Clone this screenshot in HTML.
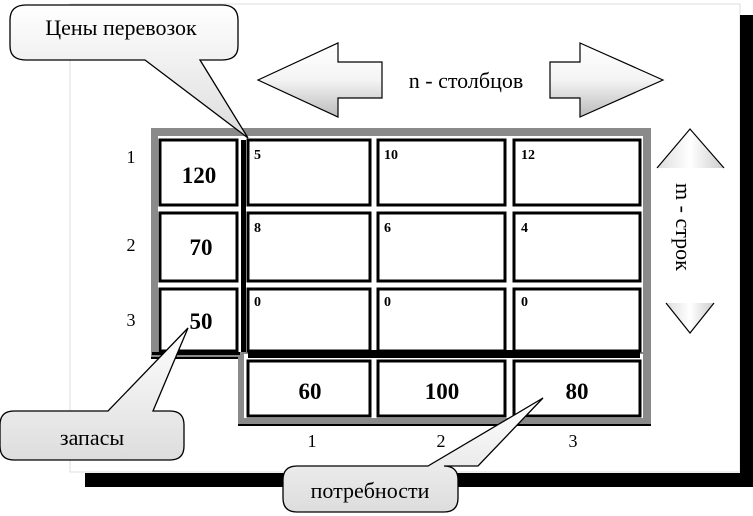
<!DOCTYPE html>
<html><head><meta charset="utf-8"><style>
html,body{margin:0;padding:0;background:#fff;width:753px;height:516px;overflow:hidden}
svg{display:block}
text{font-family:"Liberation Serif",serif}
</style></head><body>
<svg width="753" height="516" viewBox="0 0 753 516" xmlns="http://www.w3.org/2000/svg">
<defs>
<linearGradient id="ag" x1="0" y1="0" x2="0" y2="1">
<stop offset="0" stop-color="#fff"/><stop offset="0.5" stop-color="#f4f4f4"/><stop offset="1" stop-color="#bbb"/>
</linearGradient>
<linearGradient id="cg" x1="0" y1="0" x2="0" y2="1">
<stop offset="0" stop-color="#fff"/><stop offset="1" stop-color="#ddd"/>
</linearGradient>
<linearGradient id="tg" x1="0" y1="0" x2="1" y2="0">
<stop offset="0" stop-color="#ddd"/><stop offset="0.5" stop-color="#fff"/><stop offset="1" stop-color="#ccc"/>
</linearGradient>
</defs>
<rect x="70" y="4" width="670" height="468" fill="#fff" stroke="#ddd" stroke-width="1"/>
<rect x="740" y="15" width="13" height="472" fill="#000"/>
<rect x="85" y="473" width="668" height="14" fill="#000"/>

<polygon points="258,80 338,43 338,62 382,62 382,98 338,98 338,117" fill="url(#ag)" stroke="#000" stroke-width="1.2"/>
<polygon points="663,80 580,43 580,62 550,62 550,98 580,98 580,117" fill="url(#ag)" stroke="#000" stroke-width="1.2"/>
<rect x="383" y="60" width="166" height="40" fill="#fff"/>
<text x="466" y="88" font-size="22" text-anchor="middle">n - столбцов</text>
<polygon points="657,168 690,129 724,168" fill="url(#tg)" stroke="none"/>
<polyline points="657,168 690,129 724,168" fill="none" stroke="#000" stroke-width="1.2"/>
<polygon points="666,303 690,333 714,303" fill="url(#tg)" stroke="none"/>
<polyline points="666,303 690,333 714,303" fill="none" stroke="#000" stroke-width="1.2"/>
<text transform="translate(676,183) rotate(90)" font-size="22">m - строк</text>

<rect x="151" y="128" width="500" height="230" fill="#8a8a8a"/>
<rect x="238" y="350" width="413" height="74" fill="#8a8a8a"/>
<rect x="158" y="136" width="485" height="216" fill="#fff"/>
<rect x="244" y="354" width="399" height="64" fill="#fff"/>
<line x1="238" y1="425" x2="651" y2="425" stroke="#000" stroke-width="2"/>
<line x1="151" y1="358" x2="238" y2="358" stroke="#000" stroke-width="2"/>

<g fill="#fff" stroke="#000" stroke-width="3">
<rect x="160" y="140" width="77" height="65"/>
<rect x="160" y="213" width="77" height="68"/>
<rect x="160" y="289" width="77" height="62"/>
<rect x="248" y="140" width="122" height="65"/>
<rect x="378" y="140" width="127" height="65"/>
<rect x="514" y="140" width="126" height="65"/>
<rect x="248" y="213" width="122" height="68"/>
<rect x="378" y="213" width="127" height="68"/>
<rect x="514" y="213" width="126" height="68"/>
<rect x="248" y="289" width="122" height="62"/>
<rect x="378" y="289" width="127" height="62"/>
<rect x="514" y="289" width="126" height="62"/>
<rect x="248" y="361" width="122" height="55"/>
<rect x="378" y="361" width="127" height="55"/>
<rect x="514" y="361" width="126" height="55"/>
</g>
<rect x="241" y="140" width="5" height="212" fill="#000"/>
<rect x="248" y="350" width="392" height="8" fill="#000"/>
<rect x="152" y="352" width="88" height="3" fill="#000"/>

<g font-size="23" font-weight="bold" text-anchor="middle">
<text x="199" y="183">120</text>
<text x="201" y="255">70</text>
<text x="201" y="329">50</text>
<text x="310" y="399">60</text>
<text x="442" y="399">100</text>
<text x="577" y="399">80</text>
</g>
<g font-size="14" font-weight="bold">
<text x="254" y="159">5</text><text x="384" y="159">10</text><text x="521" y="159">12</text>
<text x="254" y="232">8</text><text x="384" y="232">6</text><text x="521" y="232">4</text>
<text x="254" y="306">0</text><text x="384" y="306">0</text><text x="521" y="306">0</text>
</g>
<g font-size="18" text-anchor="middle">
<text x="131" y="163">1</text><text x="131" y="251">2</text><text x="131" y="326">3</text>
<text x="312" y="447">1</text><text x="441" y="447">2</text><text x="573" y="447">3</text>
</g>

<path d="M 26 5 H 222 Q 238 5 238 20 V 46 Q 238 60 222 60 H 200 L 248 138 L 145 60 H 26 Q 10 60 10 46 V 20 Q 10 5 26 5 Z" fill="url(#cg)" stroke="#000" stroke-width="1.3"/>
<text x="121" y="35" font-size="22" text-anchor="middle">Цены перевозок</text>

<path d="M 14 411 H 108 L 188 328 L 153 411 H 170 Q 184 411 184 425 V 446 Q 184 460 170 460 H 14 Q 0 460 0 446 V 425 Q 0 411 14 411 Z" fill="url(#cg)" stroke="#000" stroke-width="1.3"/>
<text x="92" y="445" font-size="22" text-anchor="middle">запасы</text>

<path d="M 297 466 H 428 L 543 398 L 478 466 H 444 Q 458 466 458 480 V 498 Q 458 512 444 512 H 297 Q 283 512 283 498 V 480 Q 283 466 297 466 Z" fill="url(#cg)" stroke="#000" stroke-width="1.3"/>
<text x="370" y="498" font-size="22" text-anchor="middle">потребности</text>
</svg>
</body></html>
